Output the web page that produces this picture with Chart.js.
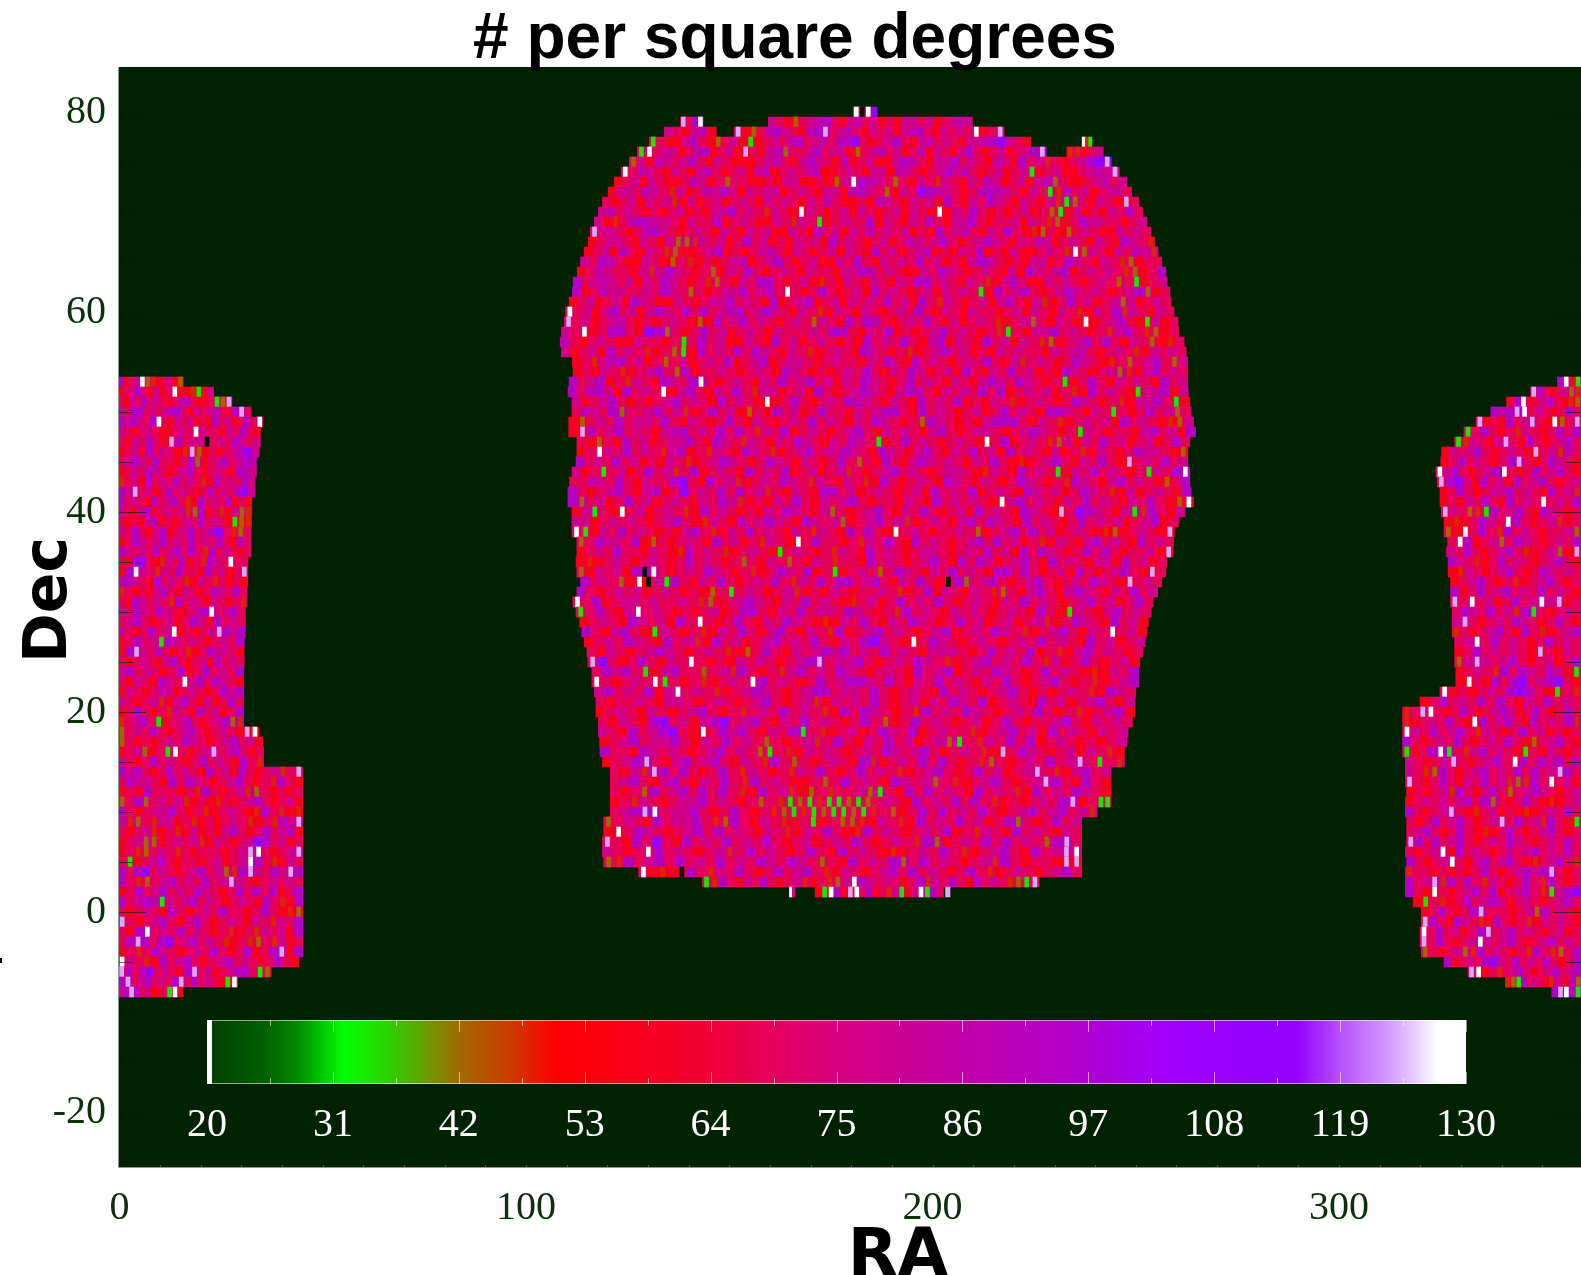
<!DOCTYPE html>
<html><head><meta charset="utf-8">
<style>html,body{margin:0;padding:0;background:#fff;overflow:hidden;width:1581px;height:1275px}
#wrap{position:relative;width:1581px;height:1275px}
canvas{position:absolute;display:block}</style>
<script src="https://cdn.jsdelivr.net/npm/chart.js@4"></script>
</head><body><div id="wrap"><canvas id="map" width="1581" height="1275" style="left:0;top:0"></canvas>
<canvas id="bar" width="1381" height="160" style="left:150px;top:1000px"></canvas></div>
<script>
const titleText="# per square degrees", xName="RA", yName="Dec";
const raTicks=[0,100,200,300], decTicks=[-20,0,20,40,60,80];
const raMin=-0.35, raMax=359.5;
const cbTicks=[20,31,42,53,64,75,86,97,108,119,130];
const cbStops=[20,20.45,20.46,25,28,32,36,42,47,50.5,64,75,86,97,104,115,119,124,127.5,130];
const cbColors=["#ffffff","#ffffff","#004000","#006000","#008c00","#00ff00","#30d000","#a06c00","#d03400","#ff0000","#f00038","#d80080","#c000a8","#b000d0","#a000ff","#9000ff","#b850ff","#d8a8ff","#ffffff","#ffffff"];
// estimated number per square degree for each letter used in the rows below
const levelKeys="kgonrcmpvblw";
const levelVals=[20,34,43,48,58,69,78,86,93,110,124,130];
// letters for sparse outliers, one degree wide inside their slot
const narrowKeys="kgonlw";
// [Dec, RA start, RA end, cell values from west to east]
const centralRows=[
[80,180.5,186.4,"wkwb"],
[79,138,143.6,"lcvw"],[79,159.6,209.8,"mcrocmpvcrmpcmrcrmmcmrcmpm"],
[78,134,146.8,"mcrmpr"],[78,151.2,217.6,"lrocpvmcrpvlcmpcrmcmrmpvcrmcmcwrcl"],
[77,130.3,224.2,"gcrrmvcrocmrgrcmcpvcmpcpvbcrcmvcrmpcmcrmmpvbmcr"],[77,236.8,239.2,"wng"],
[76,127.4,228,"gwcmmrcpvrcmrlcrmpoccmvcmmrocmpcmrcprmcrmvcrcmrcmvl"],[76,233,242,"nnrcm"],
[75,125.4,244,"omrpmcmvcrmcrrrcmpcrmvmcrprcmrrmvpcrmmvcmcrpmrvcmncrcmvbl"],
[74,123.4,245.9,"wcpmcrmcrmpcrcmrmprcmcmvrrcmcrmmrpmcrcmvmpcrcmrcmgrcmrrcmpml"],
[73,121.7,247.8,"rcmrmcrrcpmrcoccrrcrmmrrcromwvpmcocrmcnmcrmcpmrcmrmpocrrcmpcm"],
[72,120.2,249,"rmmcpmcnmrcpmvmrmcmmrcmcrmmrpvmcormcbvpmcrcpvpmcrmcgnpcmrcmmc"],
[71,118.8,250.8,"crcmrmcmnrmrcmrcmcrmcmcrmcpcrrcrpmcrmcmrvcrmcvmcrmcrmngocrmcrlc"],
[70,117.8,251.7,"mpcmcrcrcmrcrmmvcmcnmcrwmcrcmrmcrcmrmcrwrmcvcrcrcmrcogrmrcrmcvc"],
[69,116.8,252.7,"mrncpvpmmcrmccvrcmcrrmcnmcgrcmccvrmcrmcvcrmmvcrccmrmcnorcvmmccrcm"],
[68,115.8,253.7,"lmmcrcpvmcrcmcrmcrmcmrrmcrvcmrmcpcmcmrcrvcmpcrmcvcrnocrocmcrrmcmc"],
[67,115.3,254.7,"rcmmcrmcrmoonmcmrcvcmrcrmcmrvcmcrcmrcpmcmvcrcmvmcrmcpmrcmcrmcrvmcn"],
[66,114.3,255.5,"rcmrvcrmcnorrcmvrcrcmpcrmcrcmrmcrvcmrcmprcrmcvrcrmrrcmcnwomcrmcpmn"],
[65,113.4,256.4,"mcvpcrrmcrocnrcrcmprcmvcrcmrrmcvcrmcmcvcmrcrmvpcrcrmmrcvmcrmcnorcc"],
[64,112.6,257.4,"rcpmccrmnmvmcrcormcvcrcmcrmccrmmvpcmcrrmcvmcrcmcrmrvmcmvrcmcmcnorcv"],
[63,111.6,257.7,"vcmpmcmrmcvmcrcnocrmcvvcrcmrncrmcrmcrmcvvcmcrmcnrmvcrrmcmcrcmcocgrcm"],
[62,111.4,258.4,"vrcpmmccmcvmcocrcmmvcmvcwcrcvcrcmrvcmcrcmrmcmcgrvcmvcrcmvmcmcrcmvorc"],
[61,110.6,258.7,"rcmrcmrvmcrrmcrcmmvcmcrvrcmvrcmrmcmcvcmrvcnmcrcmrmvcrmnrcvcmrcmomrcmc"],
[60,109.7,259.4,"wcmrmvcmrmvmcvcvcmpvcmvmcrmcnrmcrmcrcmcvcrmcrmccrcmrmcrmcnrmcvnmcrmc"],
[59,109.4,260.4,"lcmrcmpcrcrcmcrorvcmvcmcrcmcomcrvcvpcrcmcvcrmrcmcnrcmocrmcrwrcmvcrgmrc"],
[58,108.7,260.6,"mcwrcvvcrbvocrcvcmrcmcrmcccmcvvcrmcvrcrcmvcmcrcngcrmmvcmcrcnmvcnorc"],
[57,108.4,261.9,"pcrcmcrrmccrcgcvcmrrmcrvcmrcmcrcrvcmcvcrmvrmcrvcmrmcnorcmvcvcrmcornc"],
[56,108.7,262.4,"mrcmrvcmcnrcogrvcmcvcvmcrmcnrcmcrvmcrcnrcmvcmrcrmcmccrmcmpcrcmcnrmcmc"],
[55,111.4,262.8,"rcnmpvcmrcocmrcmcvrcmvrcmmcrcmccrmcvcrvcmcrcmcvcrmncmcrcvmcrncocmvcom"],
[54,111.6,262.8,"rcrmcnrcmvcovrccmcrcmcrvmcrcrcmcvcrmcvmrcmrvcrmcvcmrcrvmcrcmonrmvcmc"],
[53,110.6,262.8,"vcmvrcnmcrvmcvwcrcmcrmcvcmvcmrmcvmcrcvcmcrmcrmvmcvmcrcgrcvcrmcmcrvcm"],
[52,110.3,262.9,"vcpvmrvcmcwrmvcrmcvcnmmrcmrvcrcmvmcrmvpcrmcmcvcvrcmcmrcnrvcmcrgmmvrm"],
[51,111.3,263.3,"mrcmvcrcrcmvcmcrvcmcrwrcvcrcmcvpmcrmcrvcmcvrcrmcnrcmcrcvmcrcnrmmvcgr"],
[50,111.3,263.6,"cpmcvoccmvcmnrcvcmrocrvcmrcvccrmcmvvcrvcmcrcmrcvcmcrvvmcrmcgcrcvcmoc"],
[49,110.5,264.2,"rocmcvcmmcvcrmcrcvcrmcrcmcvcmcrmcvmcrcovmcrcrmvvvcrmcnrcmcmrvcmcrnom"],
[48,110.5,264.7,"rlvcmvcmcrmpvcmcvcvcnmcvrcmcrcmvcrmcmcrmvcrcmmcrcmvmcrcgmcrccrmvcmrv"],
[47,112.5,263.3,"crocrvcmrcmmvcrvmcnmcrmcvmcrmcvmcgrcvcmcrcmcrwcvrcmcnomrmcvcmrcmrcvc"],
[46,112.5,262.8,"rcwmcvcmcnmvrcnmcrvmcnrcmvcmmvmcrvmcrmvcrmcvcmrvcmcrmrcnrmcrcvmmcro"],
[45,112.3,262.8,"vcmcvcmrcrmcnrcmvmcrcvmcrmcrcvcocrvcrmvmcmcrmcvcrnrcmvcrmcvcrlcmcvcm"],
[44,111.3,263.3,"mrcgcmrcvcmncvrcmcrvcmcvrcmrcmncrcmvcmcrcmmcrnmcrvcmcgrmcvcmcrcgmcvw"],
[43,110.7,263.3,"ccpmcvcrmccvbcrvcmnrcmcvmcnmcrmcnrvcrcmcrvmcrmcrcvmcrcnvmcrmvcmcrocv"],
[42,110.3,263.6,"vcrcmvcrmvrcbcmcvcvcmncrmcrvvcmrcmcrcmrvcmcvrcmcrvmcmrcvmcnrmrcmcrv"],
[41,110.3,264.2,"vocmrcvcmrcmcrmcvmnrcrmcvcrmcmvcrccrmcrvcmcmcrwmvcmcrmcvcmcrmcvcrow"],
[40,111.3,262.1,"rmgcrwcmrcmcnrvcmcrcrmcvmcrmocrcmvcrmcvcrcmrvcmcrvmcrlcbvmcrmgnvcrm"],
[39,111.3,260.5,"mmrcmcmcrcmvcrnmcrvcmvmcrvmcmorcmvcmnrcmcrmvcvmcrvcmcrcvcmcmrcmvrc"],
[38,111.3,259.5,"wgrmcvcmcrcrmvcnrmcvcmcrmcnmcrvcvcrwcmcrccmcorcmvcvcmrcmcrnorcmcrl"],
[37,112.5,259.3,"ocvmmcvrocrcmcrvcmrcnmcrwcvccrcnmcvcrvcmcrcmvcvcmrcnrmcrmvcmcrvcmc"],
[36,112.5,259.2,"rcmcvccrmcrnvcmcnrcmcrgcmcrcnmcrvcmcrcmmcrcmcvcmrvcvmcrcvcvcrccmrl"],
[35,112.3,257.6,"rnrcmcrcmcrcvcmcrcocrmcocrmcnccrvcmcrcmvcrvcvmrcmvcrvcmcrmmrvcmrc"],
[34,112.5,257.4,"ormcmrvkwcrcmcvmcrcnrcvmcvrcgrcmcocvmcrmcvcmcrvvcvcrcmrvcrcmvcrlc"],
[33,113.4,256.4,"vcmcorwkmgvcrmcvcrcmcvcnmcvcvvcmvcrmcvcrkvocmvcrcmvcrcmcvmcrlcmc"],
[32,112.5,255.4,"vcrcmcmrcmcrcrocgcmcrcmnrcrmcrccmcnrcvrmcrmcnocrmvcrmvmcrmcvcm"],
[31,111.5,254.3,"wcvrcmmcmccmcnorcmvmcrmcvcmcrncmrcvcmcvcrcmcrmcvcmcrcmvcmrcvc"],
[30,112.3,253.8,"gcvcrmwcmcrcrcmrcvvcrmcvcmmcvmcrcnvcmcrmcmcrcmcrvcrgmcrmvcmc"],
[29,113.2,253.1,"rcmcrvmcmrvcwcrcvcrmcvmcrnrmcvcrmcvmcrcvcmrcmrcmnrcvmcrvcmr"],
[28,113.7,252.7,"vcrmvcrgmcrcnrmcvcrmvcrmcnvrcmvcmcrcmvrcmcvmcnrcmvcrmcwcmr"],
[27,114.3,252.3,"rcmcvmcrvcmnrvcmrcmvcmcvcrmcvbmcrwcvmcrcmcrcmcvcmcrvcmrcm"],
[26,115,251.7,"crmcrcmvmcrcmcnrocvcrmcmvmvcmcvcmcrmmmcrcvcmcvrcnrmvcmcrc"],
[25,115.2,251,"lbcrcvcrmcwcrcrmcmcrcmvlcmmvcrcmcvmcnrcmvcmcvcnmrcvcrcmr"],
[24,116.2,250.7,"cvmvcgrmvccocmnvcrcnmvcmcvmcrcmcrvcmvrcmcvmcrcvcmcrnrmcv"],
[23,116.2,250.7,"wcrcmcwgcrcnrcmcwvcmcrcvcmvvmcvcrmcvcmcrmcvcrcmvcrcnrcmv"],
[22,116.8,250,"mvcmcvrmwcmcnrcmvmcrcmvvcmmcvcrcmcrvcmcrcmvcrcrcmcnrvmc"],
[21,117.2,249.8,"crccmcrmmcrcmcrcmvcrcmnrmcmcvcrcmrmcvmcvrcmcrvcmrcmvcrm"],
[20,117.2,249.8,"rcmcrmcrcmvcrcncmcvcmcnrvcvmcrcnvcmcvmcrcmcvcrcnrcmvr"],
[19,117.8,249.2,"crmcrvbcmrmvbcmvcrmcvcmcrcvcorcvcmcrcmrcvcrccmvcrmcmc"],
[18,117.8,248.1,"mcrvcmvbcrwcvmvcrmcvgcnrcmrcvmcvrcmccnrcmvcmrvcmcrmcm"],
[17,118.1,247.8,"rcmvcmmvcrmcvcmcocrcmncvcrmcvcmrcmogcnmcvcvrcmcrcrcm"],
[16,118.2,247.2,"vccrvmcmcrcmvcmcogcnrmcmcrcmcvmcmvcrcmcnrlcvmcrcmrmcnr"],
[15,118.8,247.2,"rcmvlcrmvcmvcrmcnvcocrcmcrvnrcmcvcvcrcnocrcmcvcmlcgcn"],
[14,120.7,243.9,"crmnlvcvcrcvcnmcrcnmcvcrcvcmcnrcmvcrcvcmrcmlcnrmvcm"],
[13,120.7,243.9,"cmvcrmvcrmcvcnvcmcrrcocvcmcrvmcmocnrcmvcrcmlvcrvcr"],
[12,120.7,243.9,"crcovcmvcvcvcnrvcmnrocnccmogcrvcvcmcrvcmcnrvcmcvmcr"],
[11,120.7,240.5,"rcnmcrcmmvcmcrcocngognggogocmcrvcmcvcvcnrcrcmcvlrc"],[11,240.6,243.9,"gg"],
[10,120.7,240.5,"cmvlwcmmvcrcvcrcnogngoggogncorcvcvcmcvcrcmvcmvcmn"],
[9,119.1,236.7,"ocmcrvcmmvcnovcrmcnrcgrcoonrmcnrvcmcvcmrcvocrcvcm"],
[8,119.1,236.7,"rwcvmcrcmvcvcmcrmcnrmcvcrnvcmcrcmcvrcnmcrvcmcrmc"],
[7,118.8,236.7,"lcrvcbcrvcmcvcmcvcrcmrcmcvcrcmcnvorcmcvcvcmcovlc"],
[6,118.8,236.7,"mcrcwvcmcrcmncvcmcrcvcrvcmcrnrcmcvcnrcmvcrvcmlw"],
[5,119.1,236.7,"onvcmvcvcmcvcmcvmcvmcocrvcmcvocvcmcrcmnvcrccrll"],
[4,127.7,236.7,"wrnrkvcnmcvcrcvcmvcnrmcrcmvcvcmcrcvcnrcmcrcmvc"],
[3,143.4,226.2,"gnvcrmcvcrcmnrcnomwvmcmcrcvnmcvcrvcmcnogl"],
[2,164.8,166.2,"wm"],
[2,171.1,202.7,"rgwvrlwcvrcnmgrmwgvc"],[2,203.2,204.3,"l"]];
const leftRows=[
[53,0,15.7,"vrcmwonrcmro"],[52,0,23.2,"rcmvcrmrcwrrngrm"],[51,0,27.7,"crmcvcmcrcmvcrrcgol"],
[50,0,32.4,"mcvvcmcmvvcrmcmpcrvlc"],[49,0,35.3,"vmvmcvwcrmcmrcrvcmrcvcw"],[48,0,34.7,"mcrcmcrrcmcwmccrmcvcr"],
[47,0,34.7,"crmcvcrlvcmmkcmcvmcm"],[46,0,34.4,"rcmrvcmcrnlorcrcmvbm"],[45,0,33.7,"cmvmcvccrcvorcmvcmvp"],
[44,0,33.7,"rcmcvmcrcmvcrcmcrvpm"],[43,0,33.4,"ncmrvcmcvcmcnrvcmcvm"],[42,0,33.4,"vmlcmrcvcmcrcvcmcvbm"],
[41,0,32.6,"vcmcrvcmvcnrvcmcvrcr"],[40,0,32.6,"mcrmvrcmcmnovrcnrmon"],[39,0,32.5,"crcrmvrcrcmcvcmcrgon"],
[38,0,32.4,"mcvcrmvrcmvcmvbcnoc"],[37,0,32.4,"rcvmcmvcmcvcmcvcrvc"],[36,0,32.4,"vmcmcvcmvcvcnvcmcrc"],
[35,0,31.6,"crvbcrnmcvrcnvmcwcc"],[34,0,31.6,"rvwmcnmcvccrvcmrcl"],[33,0,31.6,"pvmcrvcmcnrmcncrcr"],
[32,0,31.4,"ncrcrmvcrmcrcvmcvc"],[31,0,31.4,"crvmcmcnvcmcrmcrcn"],[30,0,31,"mcvmcvmcrcmvwcmvc"],
[29,0,31,"cmvcrcmrcvmrvcmc"],[28,0,31,"mcrcvcmwrcrcmlvmv"],[27,0,30.7,"rcvcmgvmcmcrcmcv"],
[26,0,30.7,"rvlmcvcrcnrcvmmcr"],[25,0,30.7,"crcmcrmvcrcmrvcmc"],[24,0,30.6,"mvcmcrcvrcvcmcv"],
[23,0,30.6,"crmcrvmcwmvcvmcr"],[22,0,30.6,"rmcrcpmrcmcrcvmv"],[21,0,30.6,"mcrcmnrmvcrmrcvc"],
[20,0,30.6,"rcvcrcnmcrvcmrcv"],[19,0,30.6,"ncmvcgrcmvcrcmvon"],[18,0,34.3,"ocmcvcrcmvcrcmcrlw"],
[17,0,35.25,"ocrcrcmcvmcrcmvcmr"],[16,0,35.5,"rcmorcgwcrcmlcmvcrc"],[15,0,35.5,"mcrcvcmcrcvcmcrvcn"],
[14,0,45.1,"vmvcrcvcmcrvcmrvcrcmncl"],[13,0,45.1,"cvmmcrvcvmcrcmvcrcnvcr"],[12,0,45.1,"rcrvcccrcnvcrcmnocrcrc"],
[11,0,45.1,"ocvocmcmnrcrncrcmvcrcmr"],[10,0,45.1,"vcrcmmvcrcnrcmcrnvcnrn"],[9,0,45.1,"mnocnmmrcnrcrcmcnrcnvml"],
[8,0,45.1,"crcmnrcnrmrcrmvcrcvcmvr"],[7,0,45.1,"rcmoorcmcmnrmcrcmbvcmrc"],[6,0,45.1,"rcnocmcncrcccrcmlwcrcml"],
[5,0,45.1,"cgrcmvcrccrcmrcmwvcnrmc"],[4,0,45.1,"vcvbcmcrcmvcmonvlmcvmlv"],[3,0,45.1,"vcnocmvcmcvcmlmcrcmcmc"],
[2,0,45.1,"rcvcmvcmcvmcrcvcvcvrcv"],[1,0,45.1,"vcmvpgmcmvcmcrcmcrvcnrv"],[0,0,45.1,"crcmcrvcrcmcvccrcvcrno"],
[-1,0,45.1,"lcrcmvcrmvcrcmcrmcnmcv"],[-2,0,45.1,"crvwcmcvcmcrcnrcnmcmrv"],[-3,0,45.1,"cvlvcvbcmvcmcnrcnocnmrc"],
[-4,0,45.1,"rcncvmcrcmcvcrcvrcvlrv"],[-5,0,44.1,"wmcnrvcmvcrcmvcmcrcvcr"],[-6,0,37.3,"lvcvbcmcrvlcmrcmvvcgo"],
[-7,0,29.1,"vlcmvcmcvlcvcmcrgw"],[-8,0,15.7,"mvlvcmrrcgwr"]];
const rightRows=[
[53,353.7,359.5,"vwrg"],[52,347.1,359.5,"lvcrcmon"],[51,341.2,359.5,"rvwrcmvcrno"],
[50,337.3,359.5,"vpvlwcmcrcvc"],[49,333.7,359.5,"lrcrvcmlcrwocl"],[48,330.7,359.5,"gcvcrcnmcrcvcv"],
[47,328.4,359.5,"gnmcrmlcrvcrcmvc"],[46,325.2,359.5,"rmcmvcrcmcrlcmnpc"],[45,325,359.5,"rcvcmcrcvlcrcvmcr"],
[44,323.8,359.5,"wmvcrcmvwcrcvcmvcr"],[43,324.1,359.5,"lvbmrvcmrvcmvcrcm"],[42,324.8,359.5,"rcvcrcmmvcmcrvcmn"],
[41,324.8,359.5,"rcrmcvcrvcmcwcmcv"],[40,325.1,359.5,"lmcongvcmvcrvmcrc"],[39,325.8,359.5,"rnrcvmcwvcrcmnrc"],
[38,325.8,359.5,"orwcvcnvcmcrccmo"],[37,326.7,359.5,"cwvrcmocvmcrcmcv"],[36,326.4,359.5,"mcvcrcmvcnrcmorl"],
[35,326.8,359.5,"vmcnrcvcmcrcmvcr"],[34,326.8,359.5,"rnmcrcmvcrcvmcmc"],[33,327.4,359.5,"rcmvcrcnrcmvcrc"],
[32,327.4,359.5,"vrcvcmvcmcvcmcr"],[31,327.4,359.5,"lcwcmrcvcmwmlrc"],[30,327.8,359.5,"cvmcvcmnvgcrcmc"],
[29,327.8,359.5,"mlcrcmcvmcrcvcr"],[28,327.8,359.5,"ncrcmvcrvcnrcmv"],[27,328.4,359.5,"cmwcvcmcrcvcmc"],
[26,328.4,359.5,"rcvcmcmcrlcrmc"],[25,328.4,359.5,"omlmcmvcrcmrcv"],[24,328.7,359.5,"rcmcnvcvmcvmrg"],
[23,328.7,359.5,"rwcrvcvbcmvbcr"],[22,324.8,359.5,"wrcrcmcvbvcrgcn"],[21,319.9,359.5,"rcvcmcvcvcrmcvcmc"],
[20,315.6,359.5,"nclwcrcvcrcmvmrcvcrcvc"],[19,315.6,359.5,"nrcmcvcrwvcmvcrvcmcvn"],[18,315.6,359.5,"wmcvcmvcnmcrcvcmrcrc"],
[17,315.6,359.5,"vcrcmcvcrcmcvcrocmvcr"],[16,315.6,359.5,"grcvwgcnmvcmcrgcrmcrc"],[15,316.3,359.5,"mcrcmlcrcmvcwvcvmvcv"],
[14,316.3,359.5,"mcnovcrcmvcmcvcvcmlvc"],[13,316.3,359.5,"lcrcvcrmcvcmnonvcwcmr"],[12,316.6,359.5,"rcrcmnvcrmvcocmvmcrcm"],
[11,316.3,359.5,"rcmcmcmvcvocrcvcrnrcm"],[10,316.3,359.5,"vcrcmlcrncmrcrnrcmcvc"],[9,316.6,359.5,"crcvcmvcrcmlcvcmnvcrg"],
[8,316.6,359.5,"cmvcrcvcrnrcvcrcmvcrc"],[7,316.6,359.5,"lvcvcmvcrcmcvmcrcmcvc"],[6,316.3,359.5,"crcmwrvcmcrcmcmvcmcvc"],
[5,316.6,359.5,"vcrcmwcrmvcmvcrncmvcn"],[4,316.3,359.5,"nccrcrcrcvcrcmvmvlcrc"],[3,316.3,359.5,"vcmlnvcvcnmcrcvcnvcrc"],
[2,316.3,359.5,"vcrwcrcmvcvrcmvcngmvb"],[1,318.2,359.5,"rgcnrcvcmvmrcmcrcmvc"],[0,320.2,359.5,"rcvcrcvlcccrcmovcmcr"],
[-1,320.2,359.5,"lvcrvmcnrvcrcnrmcmcr"],[-2,319.9,359.5,"wcvcmrcvlcmvcmcrcmrc"],[-3,319.9,359.5,"lcvcrcmwmcmvcrcmvcmc"],
[-4,320.2,359.5,"ocrcmonvcmcrcnvcnocv"],[-5,325.8,359.5,"vrcmcvbmcvcmcvcrcv"],[-6,331.7,359.5,"lwrcncmvcrcmvcmv"],
[-7,340.9,359.5,"nogvcmcrnmcrvo"],[-8,352.3,359.5,"vlwvg"]];
const mapBg="#002200", axisText="#0e2e0e";

function lerpColor(v){
  if(v<=cbStops[0])return cbColors[0];
  for(let i=1;i<cbStops.length;i++){
    if(v<=cbStops[i]){
      const t=(v-cbStops[i-1])/(cbStops[i]-cbStops[i-1]);
      const p=n=>parseInt(cbColors[i-1].substr(n,2),16),q=n=>parseInt(cbColors[i].substr(n,2),16);
      const c=[1,3,5].map(n=>Math.round(p(n)+(q(n)-p(n))*t));
      return `rgb(${c[0]},${c[1]},${c[2]})`;
    }
  }
  return "#ffffff";
}
const colorOf=ch=>ch==="k"?"#001a00":lerpColor(Math.max(levelVals[levelKeys.indexOf(ch)],20.5));
const cells=[],colors=[];
const addCell=(x0,x1,dec,ch)=>{cells.push({x:[x0,x1],y:dec,code:ch});colors.push(colorOf(ch));};
[...leftRows,...centralRows,...rightRows].sort((a,b)=>b[0]-a[0]).forEach(([dec,a0,b,codes])=>{
  const a=a0===0?raMin:a0, w=(b-a)/codes.length;
  let base="c";
  [...codes].forEach((ch,i)=>{
    const x0=a+i*w,x1=x0+w;
    if(narrowKeys.includes(ch)&&w>1.2){
      addCell(x0,x1,dec,base);
      addCell(x0+(w-1)/2,x0+(w+1)/2,dec,ch);
    }else{
      addCell(x0,x1,dec,ch);
      if(!narrowKeys.includes(ch))base=ch;
    }
  });
});

const mapFurniture={
  id:"mapFurniture",
  beforeDraw(c){
    const {ctx,chartArea:a}=c;
    ctx.save();ctx.fillStyle=mapBg;ctx.fillRect(a.left,a.top,a.right-a.left,a.bottom-a.top);ctx.restore();
  },
  afterDatasetsDraw(c){
    const {ctx,chartArea:a,scales:{x,y}}=c;
    ctx.save();
    ctx.strokeStyle="rgba(0,34,0,.6)";ctx.lineWidth=1;
    for(let d=-25;d<=80;d+=5){
      const p=Math.round(y.getPixelForValue(d))+.5,len=d%20===0?28:15;
      ctx.beginPath();ctx.moveTo(a.left,p);ctx.lineTo(a.left+len,p);ctx.moveTo(a.right,p);ctx.lineTo(a.right-len,p);ctx.stroke();
    }
    ctx.strokeStyle="#8a9a8a";
    ctx.beginPath();ctx.moveTo(a.left+.5,a.top);ctx.lineTo(a.left+.5,a.bottom);ctx.moveTo(a.left,a.bottom+.5);ctx.lineTo(a.right,a.bottom+.5);ctx.stroke();
    ctx.strokeStyle="rgba(138,154,138,.5)";
    for(let r=10;r<360;r+=10){
      const p=Math.round(x.getPixelForValue(r))+.5;
      ctx.beginPath();ctx.moveTo(p,a.bottom);ctx.lineTo(p,a.bottom-2);ctx.stroke();
    }
    ctx.fillStyle="#000";
    ctx.font='bold 65px "DejaVu Sans"';ctx.textAlign="center";ctx.textBaseline="alphabetic";
    ctx.fillText(xName,898,1275);
    ctx.font='bold 60px "DejaVu Sans"';
    ctx.translate(66,600);ctx.rotate(-Math.PI/2);ctx.fillText(yName,0,0);
    ctx.restore();
    ctx.save();ctx.fillStyle="#000";ctx.fillRect(0,958,2,5);ctx.restore();
  }
};
new Chart(document.getElementById("map"),{
  type:"bar",
  data:{datasets:[{data:cells,backgroundColor:colors,borderWidth:0,barThickness:10,inflateAmount:.3}]},
  plugins:[mapFurniture],
  options:{
    indexAxis:"y",responsive:false,animation:false,events:[],
    layout:{padding:{left:9,right:0,top:0,bottom:0}},
    plugins:{legend:{display:false},tooltip:{enabled:false},
      title:{display:true,text:titleText,color:"#000",font:{family:'"Liberation Sans"',size:64,weight:"bold",lineHeight:1},padding:{top:8,bottom:-5}}},
    scales:{
      x:{type:"linear",min:raMin,max:raMax,position:"bottom",grid:{display:false},border:{display:false},
        afterFit:s=>{s.height=108},afterBuildTicks:s=>{s.ticks=raTicks.map(value=>({value}))},
        ticks:{color:axisText,font:{family:'"Liberation Serif"',size:40},padding:9,maxRotation:0,autoSkip:false,callback:v=>String(v)}},
      y:{type:"linear",offset:false,min:-25.5,max:84.5,grid:{display:false,offset:false},border:{display:false},
        afterFit:s=>{s.width=109},afterBuildTicks:s=>{s.ticks=decTicks.map(value=>({value}))},
        ticks:{color:axisText,font:{family:'"Liberation Serif"',size:40},padding:4,autoSkip:false,callback:v=>String(v)}}
    }
  }
});

const barFurniture={
  id:"barFurniture",
  afterDatasetsDraw(c){
    const {ctx,chartArea:a,scales:{x}}=c;
    ctx.save();ctx.lineWidth=1;
    ctx.strokeStyle="rgba(255,255,255,.55)";
    ctx.strokeRect(a.left+.5,a.top+.5,a.right-a.left-1,a.bottom-a.top-1);
    for(let v=20;v<=130;v+=5.5){
      const major=Math.abs((v-20)%11)<.01,len=major?12:6,p=Math.round(x.getPixelForValue(v))+.5;
      ctx.beginPath();ctx.moveTo(p,a.top);ctx.lineTo(p,a.top+len);ctx.moveTo(p,a.bottom);ctx.lineTo(p,a.bottom-len);ctx.stroke();
    }
    ctx.restore();
  }
};
new Chart(document.getElementById("bar"),{
  type:"bar",
  data:{datasets:[{data:[{x:[cbTicks[0],cbTicks[cbTicks.length-1]],y:0}],borderWidth:0,barThickness:64,
    backgroundColor(ctx){
      const s=ctx.chart.scales.x;
      if(!s||!ctx.chart.chartArea)return "#000";
      const g=ctx.chart.ctx.createLinearGradient(s.getPixelForValue(20),0,s.getPixelForValue(130),0);
      cbStops.forEach((v,i)=>g.addColorStop((v-20)/110,cbColors[i]));
      return g;
    }}]},
  plugins:[barFurniture],
  options:{
    indexAxis:"y",responsive:false,animation:false,events:[],
    layout:{padding:{left:57,right:65,top:20,bottom:0}},
    plugins:{legend:{display:false},tooltip:{enabled:false},title:{display:false}},
    scales:{
      x:{type:"linear",min:20,max:130,grid:{display:false},border:{display:false},
        afterFit:s=>{s.height=76},afterBuildTicks:s=>{s.ticks=cbTicks.map(value=>({value}))},
        ticks:{color:"#ffffff",font:{family:'"Liberation Serif"',size:40},padding:9,maxRotation:0,autoSkip:false,callback:v=>String(v)}},
      y:{type:"linear",offset:false,min:-.5,max:.5,display:false}
    }
  }
});
</script></body></html>
